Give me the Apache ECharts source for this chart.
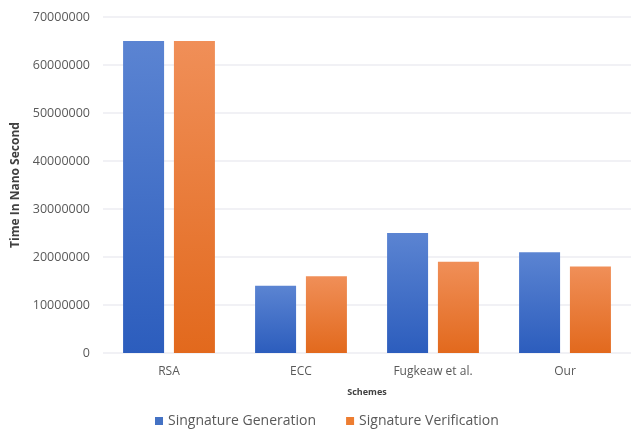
<!DOCTYPE html>
<html>
<head>
<meta charset="utf-8">
<script src="https://cdn.jsdelivr.net/npm/echarts@6/dist/echarts.min.js"></script>
<style>
  html, body { margin: 0; padding: 0; background: #fff; }
  #chart { width: 631px; height: 433px; }
</style>
</head>
<body>
<div id="chart"></div>
<script>
// Timing of signature operations per scheme (nanoseconds)
const schemes = ['RSA', 'ECC', 'Fugkeaw et al.', 'Our'];
const signGeneration = [65000000, 14000000, 25000000, 21000000];
const signVerification = [65000000, 16000000, 19000000, 18000000];
const seriesNames = ['Singnature Generation', 'Signature Verification'];

const FONT = '"Open Sans", "Noto Sans", sans-serif';

function vGrad(top, bottom) {
  return new echarts.graphic.LinearGradient(0, 0, 0, 1, [
    { offset: 0, color: top },
    { offset: 1, color: bottom }
  ]);
}

const chart = echarts.init(document.getElementById('chart'), null, { renderer: 'canvas' });
chart.setOption({
  backgroundColor: '#ffffff',
  animation: false,
  grid: { left: 103, top: 17, width: 540, height: 336, containLabel: false },
  legend: {
    data: [
      { name: seriesNames[0], itemStyle: { color: '#4472c4' } },
      { name: seriesNames[1], itemStyle: { color: '#ed7d31' } }
    ],
    left: 150,
    top: 414,
    padding: [0, 5],
    icon: 'rect',
    itemWidth: 8,
    itemHeight: 8,
    itemGap: 30,
    textStyle: { fontFamily: FONT, fontSize: 14, color: '#595959' }
  },
  xAxis: {
    type: 'category',
    data: schemes,
    name: 'Schemes',
    nameLocation: 'middle',
    nameGap: 35,
    nameTextStyle: { fontFamily: FONT, fontSize: 9, fontWeight: 'bold', color: '#404040' },
    axisLine: { show: false },
    axisTick: { show: false },
    axisLabel: { fontFamily: FONT, fontSize: 12, color: '#595959', margin: 13 }
  },
  yAxis: {
    type: 'value',
    min: 0,
    max: 70000000,
    interval: 10000000,
    name: 'Time In Nano Second',
    nameLocation: 'middle',
    nameGap: 71,
    nameTextStyle: { fontFamily: FONT, fontSize: 12, fontWeight: 'bold', color: '#404040' },
    axisLine: { show: false },
    axisTick: { show: false },
    axisLabel: {
      fontFamily: FONT, fontSize: 12.5, color: '#595959', margin: 13,
      formatter: (v) => String(v)
    },
    splitLine: { lineStyle: { color: '#ececf2', width: 1.5 } }
  },
  series: [
    {
      name: seriesNames[0],
      type: 'bar',
      data: signGeneration,
      barWidth: 41,
      barGap: '24%',
      itemStyle: { color: vGrad('#5b84d2', '#2c5dbd') }
    },
    {
      name: seriesNames[1],
      type: 'bar',
      data: signVerification,
      barWidth: 41,
      barGap: '24%',
      itemStyle: { color: vGrad('#f08f58', '#e2691d') }
    }
  ]
});
</script>
</body>
</html>
